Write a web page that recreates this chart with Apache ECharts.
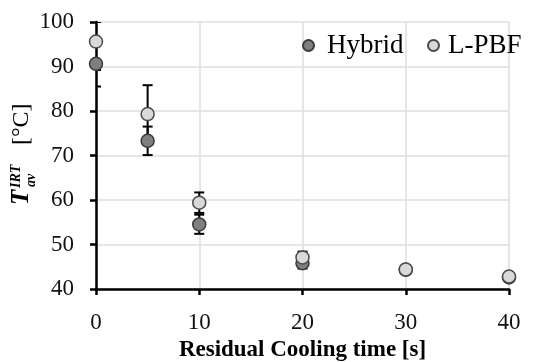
<!DOCTYPE html>
<html>
<head>
<meta charset="utf-8">
<script src="https://cdn.jsdelivr.net/npm/echarts@6/dist/echarts.min.js"></script>
<style>html,body{margin:0;padding:0;background:#fff}#c{width:533px;height:362px}</style>
</head>
<body>
<div id="c"></div>
<script>
// Data
var times = [0, 5, 10, 20, 30, 40];
var hybridMean = [90.6, 73.3, 54.5, 45.8, 44.3, 42.6];
var hybridLow  = [85.5, 70.1, 52.4, 44.6, 44.0, 42.3];
var hybridHigh = [95.7, 76.5, 56.7, 47.0, 44.6, 42.9];
var lpbfMean = [95.6, 79.3, 59.4, 47.1, 44.4, 42.8];
var lpbfLow  = [89.2, 72.8, 57.1, 45.8, 44.1, 42.5];
var lpbfHigh = [100.0, 85.8, 61.7, 48.4, 44.7, 43.1];
var xTicks = [0, 10, 20, 30, 40];
var yTicks = [40, 50, 60, 70, 80, 90, 100];

var FONT = '"Liberation Serif", "DejaVu Serif", serif';

function pairs(xs, ys) { return xs.map(function (x, i) { return [x, ys[i]]; }); }
function errData(xs, lo, hi) { return xs.map(function (x, i) { return [x, lo[i], hi[i]]; }); }

function errRender(params, api) {
  var x = api.value(0);
  var lo = api.coord([x, api.value(1)]);
  var hi = api.coord([x, api.value(2)]);
  var w = 5;
  var st = { stroke: '#000', lineWidth: 2 };
  return {
    type: 'group',
    children: [
      { type: 'line', shape: { x1: lo[0], y1: lo[1], x2: hi[0], y2: hi[1] }, style: st },
      { type: 'line', shape: { x1: lo[0] - w, y1: lo[1], x2: lo[0] + w, y2: lo[1] }, style: st },
      { type: 'line', shape: { x1: hi[0] - w, y1: hi[1], x2: hi[0] + w, y2: hi[1] }, style: st }
    ]
  };
}

var chart = echarts.init(document.getElementById('c'), null, { renderer: 'canvas' });
var option = {
  backgroundColor: '#fff',
  animation: false,
  grid: { left: 96, right: 24, top: 22, bottom: 73, containLabel: false, outerBoundsMode: 'none' },
  legend: [
    { data: ['Hybrid'], left: 297, top: 27, icon: 'circle', itemWidth: 11, itemHeight: 11,
      textStyle: { fontFamily: FONT, fontSize: 27, color: '#000', padding: [0, 0, 0, 8] } },
    { data: ['L-PBF'], left: 422, top: 27, icon: 'circle', itemWidth: 11, itemHeight: 11,
      textStyle: { fontFamily: FONT, fontSize: 27, color: '#000', padding: [0, 0, 0, 4] } }
  ],
  xAxis: {
    type: 'value', min: 0, max: 40, interval: 10,
    name: 'Residual Cooling time [s]', nameLocation: 'middle', nameGap: 50,
    nameTextStyle: { fontFamily: FONT, fontSize: 23, fontWeight: 'bold', color: '#000' },
    axisLine: { onZero: false, lineStyle: { color: '#000', width: 2.5 } },
    axisTick: { show: true, length: 6, lineStyle: { color: '#000', width: 2.5 } },
    axisLabel: { margin: 22, fontFamily: FONT, fontSize: 23, color: '#111',
      formatter: function (v) { return xTicks.indexOf(v) >= 0 ? String(v) : ''; } },
    splitLine: { show: true, lineStyle: { color: '#dedede', width: 1.5 } }
  },
  yAxis: {
    type: 'value', min: 40, max: 100, interval: 10,
    axisLine: { show: true, onZero: false, lineStyle: { color: '#000', width: 2.5 } },
    axisTick: { show: true, length: 6, lineStyle: { color: '#000', width: 2.5 } },
    axisLabel: { margin: 22, fontFamily: FONT, fontSize: 23, color: '#111',
      formatter: function (v) { return yTicks.indexOf(v) >= 0 ? String(v) : ''; } },
    splitLine: { show: true, lineStyle: { color: '#dedede', width: 1.5 } }
  },
  graphic: [{
    type: 'group', x: 22, y: 205, rotation: Math.PI / 2,
    children: [
      { type: 'text', x: 0, y: 0, style: { text: 'T', font: 'italic bold 25px ' + FONT, fill: '#000', verticalAlign: 'middle', align: 'left' } },
      { type: 'text', x: 17, y: -6, style: { text: 'IRT', font: 'italic bold 14px ' + FONT, fill: '#000', verticalAlign: 'middle', align: 'left' } },
      { type: 'text', x: 18, y: 9, style: { text: 'av', font: 'italic bold 14px ' + FONT, fill: '#000', verticalAlign: 'middle', align: 'left' } },
      { type: 'text', x: 60, y: 0, style: { text: '[°C]', font: '24px ' + FONT, fill: '#000', verticalAlign: 'middle', align: 'left' } }
    ]
  }],
  series: [
    { name: 'HybridErr', type: 'custom', renderItem: errRender, data: errData(times, hybridLow, hybridHigh), z: 1, clip: true, silent: true },
    { name: 'LpbfErr', type: 'custom', renderItem: errRender, data: errData(times, lpbfLow, lpbfHigh), z: 1, clip: true, silent: true },
    { name: 'Hybrid', type: 'scatter', data: pairs(times, hybridMean), symbol: 'circle', symbolSize: 13, z: 3,
      itemStyle: { color: '#7f7f7f', borderColor: '#3a3a3a', borderWidth: 1.5, opacity: 1 } },
    { name: 'L-PBF', type: 'scatter', data: pairs(times, lpbfMean), symbol: 'circle', symbolSize: 13, z: 4,
      itemStyle: { color: '#d9d9d9', borderColor: '#4a4a4a', borderWidth: 1.5, opacity: 1 } }
  ]
};
chart.setOption(option);
</script>
</body>
</html>
